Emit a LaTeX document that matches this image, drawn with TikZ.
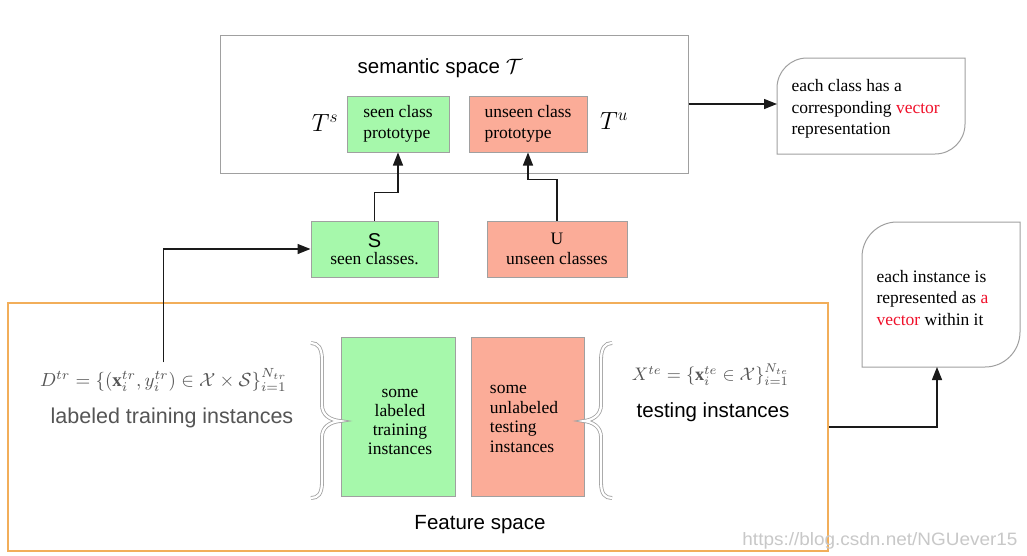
\documentclass[tikz,border=0pt]{standalone}
\usepackage{fontspec}
\setmainfont{Liberation Serif}
\setsansfont{Liberation Sans}
\usepackage{amsmath,amssymb,graphicx}
\usetikzlibrary{arrows.meta,calc}
\definecolor{pgreen}{HTML}{A6F8AB}
\definecolor{pred}{HTML}{FBAC98}
\definecolor{bgray}{HTML}{A0A0A0}
\definecolor{forange}{HTML}{F2AE5A}
\definecolor{mgray}{HTML}{555555}
\definecolor{wgray}{HTML}{C8C8C8}
\definecolor{vred}{HTML}{F0102A}
\definecolor{arr}{HTML}{1A1A1A}
\begin{document}
\begin{tikzpicture}[x=1pt,y=-1pt,
  box/.style={draw=bgray, line width=1pt, inner sep=0pt},
  gbox/.style={box, fill=pgreen},
  rbox/.style={box, fill=pred},
  conn/.style={draw=arr, line width=1.4pt, -{Triangle[length=13pt,width=10pt]}},
  serif/.style={font=\fontsize{17.5}{21}\selectfont},
  sans/.style={font=\sffamily\fontsize{20.5}{24}\selectfont},
  brace/.style={draw=bgray, line width=0.8pt, double=white, double distance=2.2pt},
  callout/.style={draw=bgray, line width=1pt}
]
\useasboundingbox (0,0) rectangle (1027,555);
\fill[white] (0,0) rectangle (1027,555);

% semantic space
\node[box, minimum width=468pt, minimum height=138pt] (sem) at (454,104) {};
\node[sans] (semt) at (440,68) {semantic space $\mathcal{T}$};
\node[gbox, minimum width=102pt, minimum height=56pt, serif, align=left] (sp) at (398,124) {seen class\\prototype};
\node[rbox, minimum width=118pt, minimum height=56pt, serif, align=left] (up) at (528,124) {unseen class\\prototype};
\node[font=\fontsize{25}{28}\selectfont] (ts) at (325,123) {$T^{s}$};
\node[font=\fontsize{25}{28}\selectfont] (tu) at (614,121) {$T^{u}$};

% callout 1
\draw[callout] (777,154) -- (777,88) .. controls (777,71.4) and (790.4,58) .. (807,58) -- (965,58) -- (965,124) .. controls (965,140.6) and (951.6,154) .. (935,154) -- cycle;
\coordinate (c1w) at (777,104);
\node[serif, align=left, anchor=west, font=\fontsize{17.5}{21.5}\selectfont] (c1) at (788,109) {each class has a\\corresponding \textcolor{vred}{vector}\\representation};

% classes
\node[gbox, minimum width=127pt, minimum height=56pt, align=center] (sbox) at (374.5,249) {{\sffamily\fontsize{20}{20}\selectfont S}\\[3pt]{\fontsize{17.5}{20}\selectfont seen classes.}};
\node[rbox, minimum width=140pt, minimum height=56pt, align=center, serif] (ubox) at (557,249) {U\\[-1pt]unseen classes};

% feature space
\node[draw=forange, line width=2pt, minimum width=820pt, minimum height=248pt] (feat) at (418,427) {};
\node[gbox, minimum width=114pt, minimum height=159pt] (tg) at (398,416.5) {};
\node[align=center, font=\fontsize{17.5}{19}\selectfont] (tgt) at (400,422) {some\\labeled\\training\\instances};
\node[rbox, minimum width=113pt, minimum height=159pt] (tr) at (528,416.5) {};
\node[align=left, font=\fontsize{17.5}{19.5}\selectfont] (trt) at (524,419) {some\\unlabeled\\testing\\instances};

\draw[brace] (311,343) .. controls (318,343) and (322,348) .. (322,360) -- (322,405) .. controls (322,415) and (330,420) .. (340,421) .. controls (330,422) and (322,427) .. (322,437) -- (322,482) .. controls (322,494) and (318,498) .. (311,498);
\draw[brace] (612,343) .. controls (605,343) and (601,348) .. (601,360) -- (601,405) .. controls (601,415) and (593,420) .. (584,421) .. controls (593,422) and (601,427) .. (601,437) -- (601,482) .. controls (601,494) and (605,498) .. (612,498);

\node[text=mgray, inner sep=6pt] (dtr) at (163.5,380) {\resizebox{247pt}{!}{$D^{tr}=\{(\mathbf{x}_i^{tr},y_i^{tr})\in\mathcal{X}\times\mathcal{S}\}_{i=1}^{N_{tr}}$}};
\node[sans, text=mgray, font=\sffamily\fontsize{21.5}{24}\selectfont] (ltr) at (172,418) {labeled training instances};
\node[text=mgray] (xte) at (710.5,375) {\resizebox{157pt}{!}{$X^{te}=\{\mathbf{x}_i^{te}\in\mathcal{X}\}_{i=1}^{N_{te}}$}};
\node[sans] (lte) at (713,412) {testing instances};
\node[sans] (fs) at (480,525) {Feature space};

% callout 2
\draw[callout] (862,367) -- (862,257) .. controls (862,237.7) and (877.7,222) .. (897,222) -- (1020,222) -- (1020,332) .. controls (1020,351.3) and (1004.3,367) .. (985,367) -- cycle;
\coordinate (c2s) at (937,367);
\node[align=left, anchor=west, font=\fontsize{17.5}{21.5}\selectfont] (c2) at (873,298) {each instance is\\represented as \textcolor{vred}{a}\\\textcolor{vred}{vector} within it};

% connectors
\draw[conn] (sem.east) -- (c1w);
\draw[conn] (sbox.north) -- ++(0,-28) -| (sp.south);
\draw[conn] (ubox.north) -- ++(0,-41) -| (up.south);
\draw[conn] (dtr.north) |- (sbox.west);
\draw[conn] (feat.east) -| (c2s);

% watermark
\node[text=wgray, anchor=east] (wm) at (1021,541) {\resizebox{275pt}{13pt}{\sffamily https://blog.csdn.net/NGUever15}};
\end{tikzpicture}
\end{document}
